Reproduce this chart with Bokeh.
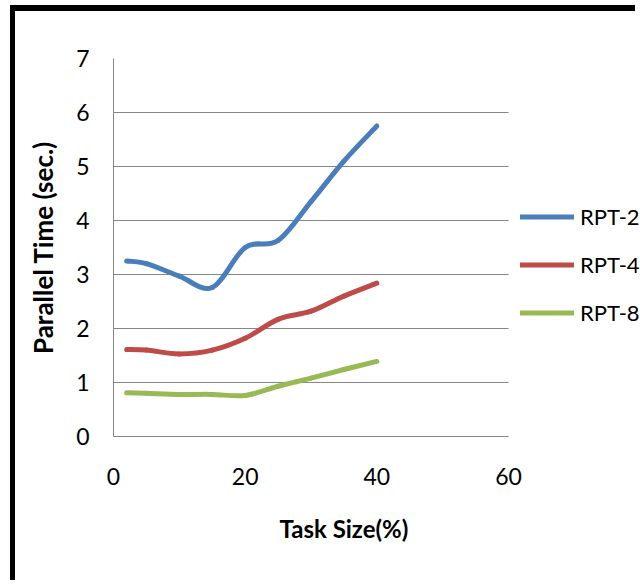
import numpy as np
from bokeh.plotting import figure
from bokeh.models import Legend, LegendItem, Title, Range1d, FixedTicker
from bokeh.embed import file_html
from bokeh.resources import INLINE

# Parallel time (seconds) measured for each task size (%)
task_size = [2, 5, 10, 15, 20, 25, 30, 35, 40]
rpt2 = [3.25, 3.20, 2.97, 2.76, 3.50, 3.63, 4.35, 5.10, 5.75]
rpt4 = [1.61, 1.60, 1.53, 1.60, 1.82, 2.17, 2.32, 2.60, 2.84]
rpt8 = [0.81, 0.80, 0.78, 0.78, 0.76, 0.93, 1.08, 1.24, 1.39]

series_names = ["RPT-2", "RPT-4", "RPT-8"]
series_values = [rpt2, rpt4, rpt8]
series_colors = ["#4A7EBB", "#BE4B48", "#98B954"]

x_ticks = [0, 20, 40, 60]
y_ticks = [0, 1, 2, 3, 4, 5, 6, 7]

FONT = "Lato"
GRID = "#868686"

# the chart box has a thick black left/top edge; the canvas sits inside it
BORDER_L, BORDER_T = 5, 6
CANVAS_W, CANVAS_H = 625, 575
LEFT, TOP, BOTTOM = 98, 47, 150
AXIS_W = 395                      # pixel width of the 0..60 axis
# the plotting area runs on to the right edge so the legend can sit there
x_end = x_ticks[-1] * (CANVAS_W - LEFT) / AXIS_W


def smooth_segments(xs, ys):
    """Cubic Bezier pieces through the points (Catmull-Rom style smoothing)."""
    pts = np.column_stack([xs, ys]).astype(float)
    q = np.vstack([pts[:1], pts, pts[-1:]])
    n = len(pts)
    p0 = q[1:n]
    p1 = q[2:n + 1]
    c0 = p0 + (q[2:n + 1] - q[0:n - 1]) / 6.0
    c1 = p1 - (q[3:n + 2] - q[1:n]) / 6.0
    return dict(x0=p0[:, 0], y0=p0[:, 1], x1=p1[:, 0], y1=p1[:, 1],
                cx0=c0[:, 0], cy0=c0[:, 1], cx1=c1[:, 0], cy1=c1[:, 1])


# the element's border counts toward the canvas size, so the figure's own
# width/height leave room for it
p = figure(width=CANVAS_W - BORDER_L, height=CANVAS_H - BORDER_T,
           output_backend="svg", toolbar_location=None,
           x_range=Range1d(x_ticks[0], x_end),
           y_range=Range1d(y_ticks[0], y_ticks[-1]),
           min_border_left=LEFT, min_border_right=0,
           min_border_top=TOP, min_border_bottom=BOTTOM,
           styles={"margin-left": "10px", "margin-top": "5px",
                   "border-left": f"{BORDER_L}px solid black",
                   "border-top": f"{BORDER_T}px solid black",
                   "box-sizing": "content-box"})
p.outline_line_color = None
p.background_fill_color = "white"
p.border_fill_color = "white"

# axes
for ax in (p.xaxis[0], p.yaxis[0]):
    ax.axis_line_color = GRID
    ax.major_tick_line_color = None
    ax.minor_tick_line_color = None
    ax.major_label_text_font = FONT
    ax.major_label_text_font_size = "23px"
    ax.major_label_text_color = "black"
    ax.axis_label_text_font = FONT
    ax.axis_label_text_font_style = "bold"
    ax.axis_label_text_font_size = "26px"
    ax.axis_label_text_color = "black"

p.xaxis.ticker = FixedTicker(ticks=x_ticks)
p.yaxis.ticker = FixedTicker(ticks=y_ticks)
p.xaxis.bounds = (x_ticks[0], x_ticks[-1])
p.xaxis.major_label_standoff = 25
p.yaxis.major_label_standoff = 18
p.yaxis.axis_label = "Parallel Time (sec.)"
p.yaxis.axis_label_standoff = 14

p.xgrid.grid_line_color = None
p.ygrid.grid_line_color = GRID
p.ygrid.grid_line_width = 1
p.ygrid.cross_bounds = (x_ticks[0], x_ticks[-1])

# smoothed series lines
items = []
for name, vals, col in zip(series_names, series_values, series_colors):
    r = p.bezier(source=smooth_segments(task_size, vals), x0="x0", y0="y0",
                 x1="x1", y1="y1", cx0="cx0", cy0="cy0", cx1="cx1", cy1="cy1",
                 line_color=col, line_width=5, line_cap="round")
    items.append(LegendItem(label=name, renderers=[r]))

legend = Legend(items=items, location=(AXIS_W + 12, 110),
                glyph_width=54, glyph_height=27, label_height=27,
                label_standoff=6, spacing=21, padding=0, margin=0,
                border_line_color=None, background_fill_alpha=0,
                label_text_font=FONT, label_text_font_size="22px",
                label_text_color="black")
p.add_layout(legend)

# x axis title
p.add_layout(Title(text="Task Size(%)", align="left", offset=166, standoff=49,
                   text_font=FONT, text_font_style="bold", text_font_size="24px",
                   text_color="black"), "below")

open("out.html", "w").write(file_html(p, INLINE))
